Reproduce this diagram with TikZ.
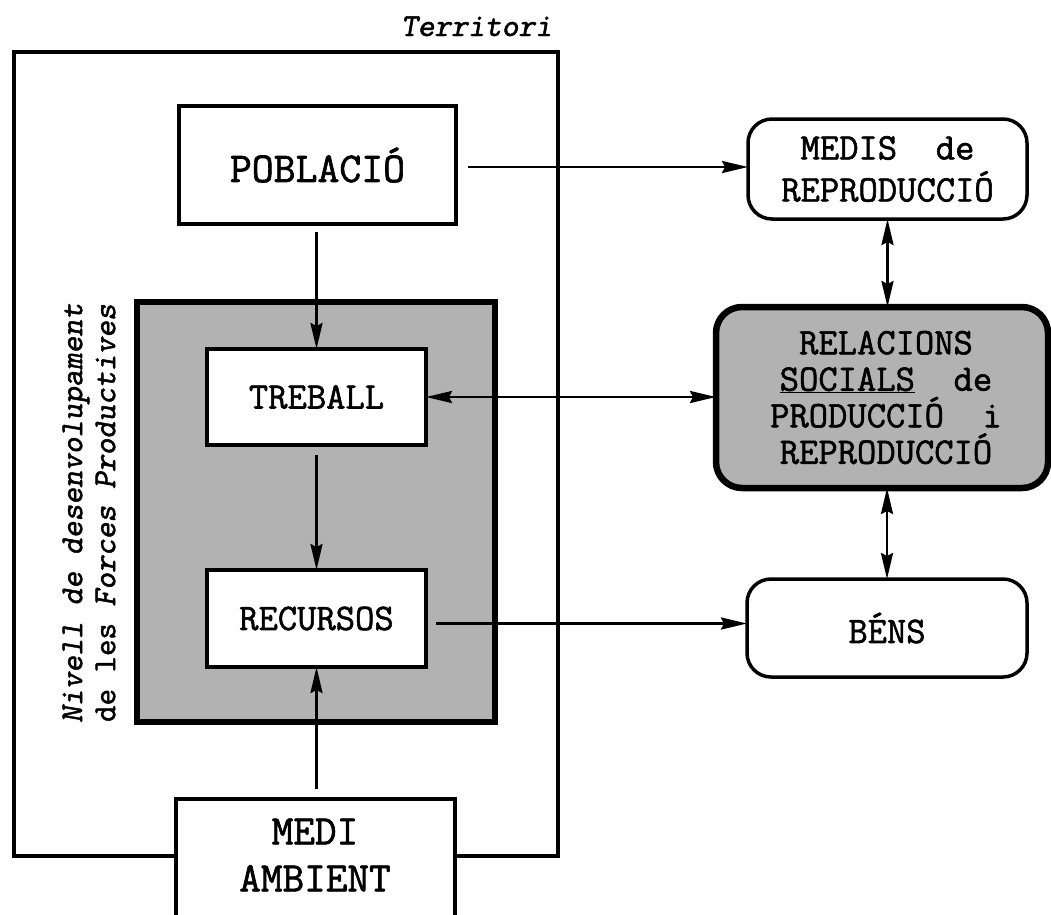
\documentclass[tikz,border=0pt]{standalone}
\usepackage{fontspec}
\setmonofont{Latin Modern Mono}[FakeBold=1.5]
\newfontfamily\slmono{lmmonoslant10-regular.otf}[FakeBold=1.5]
\usetikzlibrary{arrows.meta}
\begin{document}
\begin{tikzpicture}[x=1pt,y=-1pt,
  every node/.style={font=\ttfamily, inner sep=0pt, outer sep=0pt},
  lbl/.style={font=\ttfamily\fontsize{37.5}{36.5}\selectfont, align=center},
  rbox/.style={draw, line width=3.5pt, fill=white},
  gbox/.style={draw, line width=6.5pt, fill=black!30},
  rnd/.style={draw, line width=3.5pt, rounded corners=24pt, fill=white},
  grnd/.style={draw, line width=6.5pt, rounded corners=26pt, fill=black!30},
  arr/.style={line width=2.7pt, -{Stealth[length=26pt,width=12pt,inset=3pt]}},
  darr/.style={line width=2.7pt, {Stealth[length=26pt,width=12pt,inset=3pt]}-{Stealth[length=26pt,width=12pt,inset=3pt]}},
]
\useasboundingbox (0,0) rectangle (1051,914);
\clip (0,0) rectangle (1051,914);

% Territori frame and its label
\node[draw, line width=3.5pt, minimum width=544pt, minimum height=804pt] (terr) at (286,454) {};
\node[font=\slmono\fontsize{32}{33}\selectfont, anchor=base] (terrlbl) at (476.5,36) {Territori};

% Forces productives block
\node[gbox, minimum width=358pt, minimum height=420pt] (forces) at (316,512) {};
\node[rotate=90, font=\ttfamily\fontsize{32}{33}\selectfont, align=center] (nivell) at (89,513)
  {{\slmono Nivell de desenvolupament}\\de les {\slmono Forces Productives}};

% Boxes
\node[rbox, lbl, font=\ttfamily\fontsize{42.5}{44}\selectfont, minimum width=277pt, minimum height=118pt] (pob) at (317.5,165) {POBLACIÓ};
\node[rbox, lbl, minimum width=219pt, minimum height=96pt] (treb) at (316.5,397) {TREBALL};
\node[rbox, lbl, minimum width=219pt, minimum height=97pt] (recu) at (316.5,618.5) {RECURSOS};
\node[rbox, minimum width=279pt, minimum height=200pt] (medi) at (315.5,899) {};
\node[font=\ttfamily\fontsize{42}{47}\selectfont, align=center] (meditxt) at (315,855) {MEDI\\AMBIENT};

\node[rnd, lbl, font=\ttfamily\fontsize{37.5}{42}\selectfont, minimum width=279pt, minimum height=100pt] (medis) at (887.5,169) {MEDIS~~de\\REPRODUCCIÓ};
\node[grnd, lbl, minimum width=332pt, minimum height=181pt] (rel) at (882,397.5)
  {\hspace*{8pt}RELACIONS\\\hspace*{8pt}\underline{SOCIALS}~~de\\\hspace*{8pt}PRODUCCIÓ~~i\\\hspace*{8pt}REPRODUCCIÓ};
\node[rnd, lbl, minimum width=280pt, minimum height=98pt] (bens) at (887,628) {BÉNS};

% Connectors
\draw[arr, shorten <=12pt] ([yshift=-2pt]pob.east) -- ([yshift=-2pt]pob.east -| medis.west);
\draw[arr, shorten <=8pt] (pob.south -| treb.north) -- (treb.north);
\draw[darr] (treb.east) -- (treb.east -| rel.west);
\draw[arr, shorten <=10pt] (treb.south) -- (recu.north);
\draw[arr, shorten <=10pt] ([yshift=-5pt]recu.east) -- ([yshift=-5pt]recu.east -| bens.west);
\draw[arr, shorten <=10pt] (medi.north -| recu.south) -- (recu.south);
\draw[darr] (medis.south) -- (medis.south |- rel.north);
\draw[darr] (bens.north) -- (bens.north |- rel.south);
\end{tikzpicture}
\end{document}
